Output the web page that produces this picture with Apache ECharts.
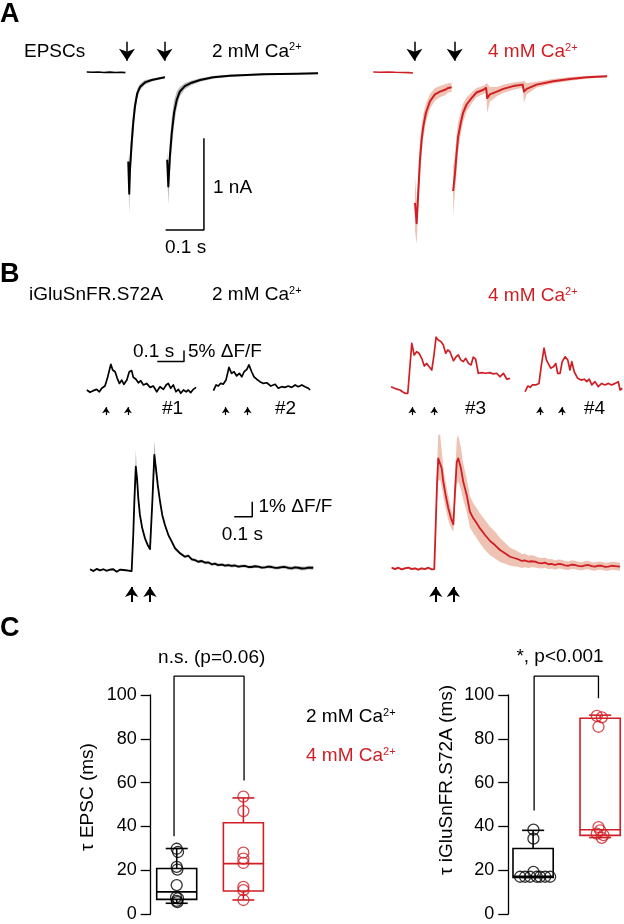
<!DOCTYPE html>
<html>
<head>
<meta charset="utf-8">
<script src="https://cdn.jsdelivr.net/npm/echarts@6/dist/echarts.min.js"></script>
<style>
html, body { margin: 0; padding: 0; background: #fff; }
#chart { width: 624px; height: 924px; }
</style>
</head>
<body>
<div id="chart"></div>
<script>
const FONT = '"Liberation Sans", Arial, Helvetica, sans-serif'
const RED = '#cf1f25'
const RED_BAND = '#eec3b4'
const GRAY_BAND = '#bababa'

// A: EPSCs, [time s, current nA, sem nA]
const epsc2Base = [[-0.105, 0.003], [-0.09, 0.0], [-0.075, 0.004], [-0.06, -0.002], [-0.045, 0.002], [-0.03, -0.003], [-0.015, 0.001], [-0.004, -0.004]]
const epsc2Pulse1 = [[0.0034, -0.97, 0.1], [0.006, -1.32, 0.22], [0.0078, -1.06, 0.18], [0.0123, -0.77, 0.17], [0.0164, -0.55, 0.13], [0.0209, -0.37, 0.09], [0.0269, -0.23, 0.05], [0.034, -0.16, 0.035], [0.047, -0.11, 0.025], [0.0645, -0.084, 0.015], [0.086, -0.065, 0.012], [0.099, -0.054, 0.01]]
const epsc2Pulse2 = [[0.105, -0.95, 0.1], [0.108, -1.24, 0.2], [0.112, -0.92, 0.18], [0.117, -0.66, 0.17], [0.123, -0.44, 0.13], [0.13, -0.30, 0.09], [0.138, -0.21, 0.05], [0.151, -0.15, 0.035], [0.169, -0.113, 0.025], [0.191, -0.084, 0.02], [0.225, -0.054, 0.015], [0.269, -0.037, 0.012], [0.3125, -0.029, 0.01], [0.355, -0.022, 0.01], [0.40, -0.018, 0.008], [0.443, -0.015, 0.008], [0.499, -0.011, 0.008]]
const epsc4Base = [[-0.1076, 0.003], [-0.09, 0.001], [-0.07, 0.004], [-0.05, 0.0], [-0.03, -0.002], [-0.015, -0.004], [-0.004, -0.008]]
const epsc4Pulse1 = [[0.0013, -1.42, 0.3], [0.0057, -1.64, 0.23], [0.0099, -1.31, 0.2], [0.0144, -0.95, 0.2], [0.0188, -0.73, 0.16], [0.023, -0.59, 0.13], [0.030, -0.44, 0.1], [0.0405, -0.315, 0.08], [0.0535, -0.24, 0.07], [0.0666, -0.21, 0.06], [0.0796, -0.19, 0.06], [0.0883, -0.17, 0.05], [0.097, -0.163, 0.05]]
const epsc4Pulse2 = [[0.101, -1.29, 0.27], [0.106, -1.09, 0.2], [0.110, -0.88, 0.2], [0.114, -0.70, 0.16], [0.121, -0.55, 0.12], [0.127, -0.44, 0.1], [0.136, -0.35, 0.08], [0.149, -0.28, 0.06], [0.162, -0.22, 0.05], [0.180, -0.19, 0.045], [0.187, -0.17, 0.045], [0.190, -0.28, 0.16], [0.197, -0.24, 0.08], [0.215, -0.21, 0.05], [0.232, -0.18, 0.045], [0.258, -0.15, 0.04], [0.2825, -0.134, 0.035], [0.286, -0.21, 0.12], [0.293, -0.18, 0.06], [0.319, -0.134, 0.03], [0.362, -0.098, 0.025], [0.406, -0.072, 0.02], [0.45, -0.054, 0.015], [0.503, -0.043, 0.012]]
const epscStims2 = [0, 0.098]
const epscStims4 = [0, 0.105]
const epscScaleBar = [[0.101, -1.714], [0.201, -1.714], [0.201, -0.717]]

// B: single trials, [time s, dF/F %]
const glu1 = [[-0.072, 0], [-0.06, -1.05], [-0.048, -0.3], [-0.035, 0.3], [-0.025, -0.8], [-0.016, 0.8], [-0.004, 1.8], [0.005, 5.3], [0.018, 11.7], [0.025, 9.1], [0.034, 8.3], [0.042, 5.3], [0.05, 3.0], [0.059, 4.5], [0.067, 2.6], [0.078, 4.5], [0.087, 8.3], [0.096, 8.8], [0.102, 5.8], [0.112, 4.9], [0.121, 3.3], [0.13, 4.2], [0.14, 2.3], [0.152, 3.0], [0.165, 1.2], [0.177, 1.8], [0.19, -0.8], [0.202, 1.5], [0.215, 0.3], [0.225, 2.3], [0.233, 3.0], [0.242, 0.8], [0.252, 2.3], [0.262, -0.8], [0.271, 0.3], [0.28, -1.5], [0.29, 0], [0.30, -0.8], [0.308, 0], [0.317, -1.2], [0.327, 0.3], [0.337, 1.2]]
const glu2 = [[-0.046, -0.3], [-0.036, 2.3], [-0.028, 1.8], [-0.019, 3.0], [-0.009, 2.7], [0.001, 4.5], [0.012, 10.3], [0.022, 7.6], [0.031, 8.3], [0.041, 6.4], [0.051, 7.6], [0.06, 6.0], [0.069, 8.3], [0.079, 9.4], [0.087, 11.4], [0.097, 8.3], [0.106, 6.0], [0.116, 4.9], [0.128, 3.8], [0.141, 3.0], [0.154, 3.3], [0.169, 1.8], [0.185, 2.6], [0.197, 0.8], [0.21, 1.5], [0.222, 1.2], [0.234, 1.8], [0.247, 1.2], [0.26, 2.3], [0.272, 1.5], [0.285, 2.3], [0.297, 1.5], [0.309, 0.8], [0.316, 0]]
const glu3 = [[-0.08, 1.5], [-0.067, 0.8], [-0.055, 0.3], [-0.046, 0], [-0.037, -0.8], [-0.027, -1.5], [-0.017, -1.5], [-0.002, 21.2], [0.007, 15.9], [0.016, 17.4], [0.025, 16.7], [0.035, 14.4], [0.045, 10.9], [0.054, 12.1], [0.063, 10.6], [0.073, 9.1], [0.081, 15.9], [0.089, 24.0], [0.097, 22.7], [0.107, 22.0], [0.116, 20.5], [0.125, 16.7], [0.133, 18.2], [0.141, 17.4], [0.154, 13.3], [0.164, 15.1], [0.172, 15.9], [0.182, 13.6], [0.191, 12.9], [0.2, 14.4], [0.21, 12.1], [0.22, 11.4], [0.228, 14.9], [0.237, 14.0], [0.247, 7.6], [0.26, 7.9], [0.272, 7.6], [0.291, 7.9], [0.303, 7.3], [0.316, 7.6], [0.328, 6.0], [0.341, 7.6], [0.354, 4.9], [0.366, 5.3]]
const glu4 = [[-0.056, -0.8], [-0.046, 1.8], [-0.037, 1.2], [-0.029, 2.3], [-0.016, 2.3], [-0.004, 3.0], [0.006, 12.1], [0.015, 19.0], [0.024, 13.6], [0.031, 12.9], [0.04, 9.9], [0.05, 10.6], [0.059, 12.1], [0.066, 7.6], [0.075, 7.6], [0.083, 12.9], [0.094, 15.1], [0.104, 13.6], [0.112, 9.1], [0.119, 12.9], [0.128, 8.3], [0.141, 5.3], [0.154, 4.5], [0.166, 4.9], [0.175, 3.8], [0.184, 4.9], [0.194, 2.3], [0.206, 3.8], [0.218, 1.5], [0.231, 3.0], [0.243, 2.3], [0.256, 3.0], [0.268, 2.3], [0.281, 3.0], [0.293, 3.8], [0.3, 0], [0.308, 0.8]]
const trialStims = [0, 0.082]
const trialScaleBar = [[0.192, 12.9], [0.292, 12.9], [0.292, 17.9]]

// B: averages, [time s, dF/F %, sem %]
const glu2Avg = [[-0.233, 0.05, 0.06], [-0.215, -0.07, 0.06], [-0.196, 0.07, 0.06], [-0.178, -0.02, 0.06], [-0.159, 0.05, 0.06], [-0.141, -0.05, 0.06], [-0.122, 0.02, 0.06], [-0.104, 0.05, 0.06], [-0.085, -0.11, 0.06], [-0.067, 0.02, 0.06], [-0.048, 0, 0.06], [-0.029, -0.02, 0.06], [-0.002, -0.07, 0.06], [0.007, 2.33, 0.2], [0.013, 4.55, 0.4], [0.021, 6.89, 1.1], [0.028, 6.11, 0.4], [0.035, 4.78, 0.2], [0.044, 3.67, 0.15], [0.057, 2.78, 0.12], [0.072, 2.11, 0.1], [0.087, 1.67, 0.1], [0.1, 1.4, 0.1], [0.106, 1.45, 0.1], [0.113, 4.55, 0.3], [0.124, 7.67, 1.0], [0.133, 6.78, 0.4], [0.143, 5.67, 0.2], [0.156, 4.55, 0.15], [0.168, 3.67, 0.12], [0.183, 3.0, 0.1], [0.202, 2.33, 0.1], [0.221, 1.89, 0.1], [0.239, 1.45, 0.1], [0.267, 1.11, 0.1], [0.294, 0.89, 0.1], [0.313, 0.95, 0.1], [0.332, 0.71, 0.1], [0.35, 0.66, 0.1], [0.368, 0.55, 0.1], [0.387, 0.6, 0.1], [0.406, 0.49, 0.1], [0.425, 0.5, 0.1], [0.443, 0.38, 0.1], [0.46, 0.42, 0.1], [0.479, 0.33, 0.1], [0.5, 0.36, 0.1], [0.517, 0.29, 0.1], [0.535, 0.33, 0.1], [0.554, 0.27, 0.1], [0.572, 0.3, 0.1], [0.591, 0.22, 0.1], [0.61, 0.26, 0.1], [0.628, 0.27, 0.1], [0.646, 0.2, 0.1], [0.665, 0.2, 0.1], [0.683, 0.25, 0.1], [0.702, 0.22, 0.1], [0.72, 0.16, 0.1], [0.739, 0.18, 0.1], [0.758, 0.22, 0.11], [0.776, 0.2, 0.11], [0.795, 0.14, 0.11], [0.813, 0.15, 0.11], [0.832, 0.19, 0.11], [0.85, 0.2, 0.11], [0.868, 0.14, 0.12], [0.887, 0.11, 0.12], [0.905, 0.17, 0.12], [0.924, 0.15, 0.12], [0.943, 0.1, 0.13], [0.961, 0.11, 0.13], [0.98, 0.16, 0.13], [1.007, 0.15, 0.13]]
const glu4Avg = [[-0.241, 0.04, 0.07], [-0.222, -0.05, 0.07], [-0.204, 0.04, 0.07], [-0.185, -0.07, 0.07], [-0.167, 0, 0.07], [-0.148, 0.04, 0.07], [-0.129, -0.05, 0.07], [-0.111, 0, 0.07], [-0.093, -0.09, 0.07], [-0.074, 0, 0.07], [-0.056, -0.05, 0.07], [-0.037, 0.04, 0.07], [-0.018, -0.07, 0.07], [-0.004, -0.05, 0.07], [0.004, 2.89, 0.8], [0.011, 5.55, 1.2], [0.018, 7.33, 1.55], [0.028, 7.44, 1.5], [0.037, 6.67, 1.2], [0.046, 5.77, 1.0], [0.059, 4.89, 0.9], [0.074, 4.0, 0.8], [0.089, 3.33, 0.65], [0.102, 2.93, 0.5], [0.111, 5.1, 1.0], [0.121, 7.1, 1.5], [0.129, 7.33, 1.55], [0.144, 6.67, 1.4], [0.157, 5.77, 1.2], [0.176, 4.89, 1.1], [0.194, 3.77, 1.05], [0.213, 3.33, 1.0], [0.232, 3.0, 1.0], [0.25, 2.66, 1.0], [0.278, 2.22, 1.0], [0.306, 1.82, 0.95], [0.333, 1.55, 0.9], [0.361, 1.22, 0.8], [0.389, 1.0, 0.7], [0.417, 0.77, 0.6], [0.444, 0.67, 0.55], [0.463, 0.6, 0.5], [0.482, 0.49, 0.47], [0.5, 0.52, 0.45], [0.518, 0.44, 0.42], [0.537, 0.47, 0.4], [0.556, 0.44, 0.38], [0.574, 0.36, 0.36], [0.593, 0.33, 0.35], [0.611, 0.38, 0.34], [0.63, 0.27, 0.33], [0.648, 0.3, 0.32], [0.667, 0.22, 0.31], [0.685, 0.29, 0.3], [0.704, 0.27, 0.3], [0.722, 0.2, 0.29], [0.741, 0.17, 0.29], [0.76, 0.25, 0.28], [0.778, 0.22, 0.28], [0.796, 0.16, 0.28], [0.815, 0.13, 0.28], [0.833, 0.2, 0.28], [0.852, 0.22, 0.28], [0.87, 0.14, 0.27], [0.889, 0.11, 0.27], [0.907, 0.18, 0.27], [0.926, 0.17, 0.27], [0.944, 0.1, 0.27], [0.963, 0.11, 0.27], [0.981, 0.17, 0.27], [1.0, 0.15, 0.27], [1.028, 0.11, 0.27]]
const avgStims2 = [-0.002, 0.1]
const avgStims4 = [0.004, 0.102]
const avgScaleBar = [[0.568, 3.55], [0.668, 3.55], [0.668, 4.55]]

// C: decay tau (ms). boxes: [x, min, q1, median, q3, max]
const tauTicks = [0, 20, 40, 60, 80, 100]
const epscBox2 = [[1, 4.9, 6.7, 10.1, 20.8, 29.9]]
const epscBox4 = [[2, 6.4, 10.5, 23, 41.7, 53]]
const epscPts2 = [[1, 29.8], [1.02, 28.3], [1, 21.5], [1.01, 20.3], [1, 13.2], [0.99, 7.6], [1.02, 7.1], [1, 6.0], [1.01, 5.4]]
const epscPts4 = [[2, 53.6], [2, 47], [2, 28], [2, 25.3], [2, 23.3], [2, 12.4], [2, 10.9], [2, 6.4]]
const gluBox2 = [[1, 16.7, 16.7, 17.2, 29.9, 38.2]]
const gluBox4 = [[2, 34.9, 35.9, 38.5, 89.4, 90.8]]
const gluPts2 = [[1.005, 38.5], [1.005, 34.4], [1.005, 19.2], [0.806, 17], [0.88, 17], [0.955, 17], [1.055, 17], [1.104, 17], [1.18, 17], [1.254, 17]]
const gluPts4 = [[1.95, 90.5], [2.025, 89.8], [1.975, 85.5], [1.975, 39.7], [2.0, 38.2], [1.95, 36.7], [2.05, 36], [2.025, 34.8]]
const epscBracket = [[0.96, 35.5], [0.96, 108.6], [2.01, 108.6], [2.01, 61]]
const gluBracket = [[1.015, 47.3], [1.015, 108.6], [1.975, 108.6], [1.975, 98.5]]

const chart = echarts.init(document.getElementById('chart'))

const grids = [
    {left: 81, top: 35.5, width: 245.1, height: 220.8},
    {left: 368.5, top: 35.5, width: 245.1, height: 220.8},
    {left: 82, top: 332.8, width: 125.5, height: 85.8},
    {left: 201.7, top: 332.8, width: 125.5, height: 85.8},
    {left: 388.3, top: 332.8, width: 125.5, height: 85.8},
    {left: 516, top: 332.8, width: 125.5, height: 85.8},
    {left: 85.2, top: 429, width: 237.6, height: 177},
    {left: 388.2, top: 427.3, width: 237.6, height: 177},
    {left: 150.7, top: 695, width: 132.7, height: 219},
    {left: 508.3, top: 695, width: 115.3, height: 219}
].map(g => Object.assign({outerBoundsMode: 'none', containLabel: false}, g))

const xRanges = [[-0.12, 0.52], [-0.12, 0.52], [-0.09, 0.38], [-0.09, 0.38], [-0.09, 0.38], [-0.09, 0.38], [-0.26, 1.06], [-0.26, 1.06], [0.61, 2.6], [0.63, 2.35]]
const yRanges = [[-2, 0.4], [-2, 0.4], [-13, 26], [-13, 26], [-13, 26], [-13, 26], [-2.4, 9.4], [-2.4, 9.4]]

const xAxes = xRanges.map((r, i) => ({type: 'value', gridIndex: i, min: r[0], max: r[1], show: false}))
const yAxes = yRanges.map((r, i) => ({type: 'value', gridIndex: i, min: r[0], max: r[1], show: false}))
for (let i = 8; i < 10; i++) {
    yAxes.push({
        type: 'value', gridIndex: i,
        min: tauTicks[0], max: tauTicks[tauTicks.length - 1], interval: tauTicks[1] - tauTicks[0],
        axisLine: {show: true, lineStyle: {color: '#000', width: 1.3}},
        axisTick: {show: true, inside: false, length: 10, lineStyle: {color: '#000', width: 1.3}},
        axisLabel: {show: true, color: '#000', fontSize: 18, fontFamily: FONT, margin: 14},
        splitLine: {show: false}
    })
}

function arrows(times, from, to, size, width) {
    return {
        silent: true,
        symbol: ['none', 'arrow'],
        symbolSize: [size, size],
        label: {show: false},
        lineStyle: {color: '#000', width: width, type: 'solid'},
        emphasis: {disabled: true},
        data: times.map(t => [{coord: [t, from]}, {coord: [t, to]}])
    }
}

function trace(grid, pts, color, width, marks) {
    const s = {
        type: 'line', xAxisIndex: grid, yAxisIndex: grid, z: 3, silent: true,
        data: pts.map(p => [p[0], p[1]]),
        symbol: 'none',
        lineStyle: {color: color, width: width, join: 'round'}
    }
    if (marks) s.markLine = marks
    return s
}

// mean +/- sem envelope as one polygon
function band(grid, pts, color) {
    return {
        type: 'custom', xAxisIndex: grid, yAxisIndex: grid, z: 1, silent: true,
        data: pts.map(p => [p[0], p[1]]),
        renderItem: function (params, api) {
            if (params.dataIndex !== 0) return null
            const up = [], lo = []
            pts.forEach(p => {
                up.push(api.coord([p[0], p[1] + p[2]]))
                lo.unshift(api.coord([p[0], p[1] - p[2]]))
            })
            return {type: 'polygon', shape: {points: up.concat(lo)}, style: {fill: color}}
        }
    }
}

function bar(grid, pts) {
    return {
        type: 'line', xAxisIndex: grid, yAxisIndex: grid, clip: false, silent: true,
        data: pts, symbol: 'none', lineStyle: {color: '#000', width: 1.5}
    }
}

function boxes(grid, rows, color) {
    return {
        type: 'custom', xAxisIndex: grid, yAxisIndex: grid, z: 2, silent: true,
        data: rows,
        renderItem: function (params, api) {
            const x = api.value(0)
            const p = [1, 2, 3, 4, 5].map(i => api.coord([x, api.value(i)]))
            const half = api.size([0.3, 0])[0]
            const cap = half * 0.55
            const cx = p[0][0]
            const st = {stroke: color, lineWidth: 1.6, fill: null}
            const ln = (x1, y1, x2, y2) => ({type: 'line', shape: {x1, y1, x2, y2}, style: st})
            return {
                type: 'group',
                children: [
                    {type: 'rect', shape: {x: cx - half, y: p[3][1], width: 2 * half, height: p[1][1] - p[3][1]}, style: st},
                    ln(cx - half, p[2][1], cx + half, p[2][1]),
                    ln(cx, p[3][1], cx, p[4][1]),
                    ln(cx - cap, p[4][1], cx + cap, p[4][1]),
                    ln(cx, p[1][1], cx, p[0][1]),
                    ln(cx - cap, p[0][1], cx + cap, p[0][1])
                ]
            }
        }
    }
}

function dots(grid, pts, color) {
    return {
        type: 'scatter', xAxisIndex: grid, yAxisIndex: grid, z: 4, silent: true,
        data: pts, symbol: 'circle', symbolSize: 11,
        itemStyle: {color: 'rgba(255,255,255,0)', borderColor: color, borderWidth: 1.3}
    }
}

function bracket(grid, pts) {
    return {
        type: 'line', xAxisIndex: grid, yAxisIndex: grid, clip: false, silent: true,
        data: pts, symbol: 'none', lineStyle: {color: '#000', width: 1.3}
    }
}

const series = [
    // A
    trace(0, epsc2Base, '#000', 1.6, arrows(epscStims2, 0.333, 0.126, 12, 1.5)),
    band(0, epsc2Pulse1, GRAY_BAND), trace(0, epsc2Pulse1, '#000', 2),
    band(0, epsc2Pulse2, GRAY_BAND), trace(0, epsc2Pulse2, '#000', 2),
    bar(0, epscScaleBar),
    trace(1, epsc4Base, RED, 1.6, arrows(epscStims4, 0.333, 0.126, 12, 1.5)),
    band(1, epsc4Pulse1, RED_BAND), trace(1, epsc4Pulse1, RED, 2),
    band(1, epsc4Pulse2, RED_BAND), trace(1, epsc4Pulse2, RED, 2),
    // B single trials
    trace(2, glu1, '#000', 1.7, arrows(trialStims, -11.4, -7.8, 6, 1.2)),
    bar(2, trialScaleBar),
    trace(3, glu2, '#000', 1.7, arrows(trialStims, -11.4, -7.8, 6, 1.2)),
    trace(4, glu3, RED, 1.7, arrows(trialStims, -11.4, -7.8, 6, 1.2)),
    trace(5, glu4, RED, 1.7, arrows(trialStims, -11.4, -7.8, 6, 1.2)),
    // B averages
    band(6, glu2Avg, GRAY_BAND), trace(6, glu2Avg, '#000', 1.8, arrows(avgStims2, -2.13, -1.13, 10, 2)),
    bar(6, avgScaleBar),
    band(7, glu4Avg, RED_BAND), trace(7, glu4Avg, RED, 1.8, arrows(avgStims4, -2.25, -1.25, 10, 2)),
    // C
    boxes(8, epscBox2, '#000'), boxes(8, epscBox4, RED),
    dots(8, epscPts2, '#000'), dots(8, epscPts4, RED),
    bracket(8, epscBracket),
    boxes(9, gluBox2, '#000'), boxes(9, gluBox4, RED),
    dots(9, gluPts2, '#000'), dots(9, gluPts4, RED),
    bracket(9, gluBracket)
]

function label(x, y, text, opt) {
    opt = opt || {}
    return {
        type: 'text', x: x, y: y, rotation: opt.rot || 0, silent: true,
        style: {
            text: text, fill: opt.color || '#000',
            font: (opt.weight || 'normal') + ' ' + (opt.size || 19) + 'px ' + FONT,
            align: opt.align || 'left', verticalAlign: 'middle'
        }
    }
}

function caLabel(x, y, mm, color) {
    return {
        type: 'text', x: x, y: y, silent: true,
        style: {
            text: '{n|' + mm + ' mM Ca}{s|2+}',
            align: 'left', verticalAlign: 'middle', fill: color,
            rich: {
                n: {fontSize: 19, fontFamily: FONT, lineHeight: 20, fill: color},
                s: {fontSize: 11, fontFamily: FONT, lineHeight: 14, verticalAlign: 'top', fill: color}
            }
        }
    }
}

const texts = [
    label(0, 15, 'A', {weight: 'bold', size: 27}),
    label(24, 51.7, 'EPSCs'),
    caLabel(212, 51.7, 2, '#000'),
    caLabel(488, 52, 4, RED),
    label(213, 188, '1 nA'),
    label(165, 248, '0.1 s'),
    label(0, 275, 'B', {weight: 'bold', size: 27}),
    label(29, 295, 'iGluSnFR.S72A'),
    caLabel(212, 295, 2, '#000'),
    caLabel(488, 296, 4, RED),
    label(133, 351.7, '0.1 s'),
    label(188, 351.7, '5% ΔF/F'),
    label(162, 409, '#1'),
    label(275, 409, '#2'),
    label(465, 408.5, '#3'),
    label(584, 408.5, '#4'),
    label(258.5, 507, '1% ΔF/F'),
    label(221.7, 535, '0.1 s'),
    label(0, 629, 'C', {weight: 'bold', size: 27}),
    label(211.7, 658, 'n.s. (p=0.06)', {align: 'center'}),
    label(560, 657, '*, p<0.001', {align: 'center'}),
    caLabel(306, 717, 2, '#000'),
    caLabel(306, 756, 4, RED),
    label(88, 797, 'τ EPSC (ms)', {align: 'center', rot: Math.PI / 2}),
    label(446.7, 780, 'τ iGluSnFR.S72A (ms)', {align: 'center', rot: Math.PI / 2})
]

chart.setOption({
    animation: false,
    backgroundColor: '#fff',
    grid: grids,
    xAxis: xAxes,
    yAxis: yAxes,
    series: series,
    graphic: texts
})
</script>
</body>
</html>
